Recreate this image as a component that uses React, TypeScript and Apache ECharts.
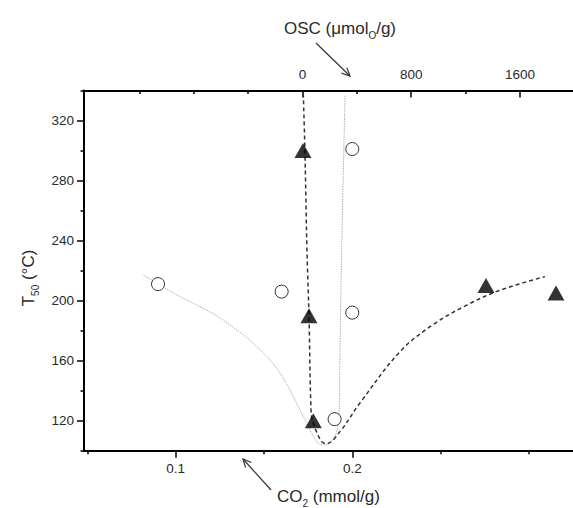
import React, { useEffect, useRef } from "react";
import * as echarts from "echarts";

// ---- data ----
// Open circles: T50 vs CO2 uptake (bottom axis, mmol/g)
const co2Points: [number, number][] = [
  [0.09, 211],
  [0.16, 206],
  [0.2, 301],
  [0.2, 192],
  [0.19, 121],
];
// Light grey trend curve for the CO2 data
const co2Curve: [number, number][] = [
  [0.0817, 217.1],
  [0.09, 211.1],
  [0.0996, 204.5],
  [0.1119, 197.1],
  [0.1223, 190.5],
  [0.1307, 183.8],
  [0.1387, 176.8],
  [0.1459, 169.3],
  [0.1534, 160.5],
  [0.1619, 146.5],
  [0.1704, 127.1],
  [0.1761, 113.8],
  [0.1806, 105.1],
  [0.1845, 103.8],
  [0.1912, 112.7],
  [0.1926, 127.1],
  [0.193, 162.5],
  [0.194, 233.8],
  [0.1959, 337],
];
// Filled triangles: T50 vs OSC (top axis, umol O/g)
const oscPoints: [number, number][] = [
  [4, 300],
  [48, 190],
  [80, 120],
  [1350, 210],
  [1865, 205],
];
// Dashed trend curve for the OSC data
const oscCurve: [number, number][] = [
  [6, 338],
  [18, 300],
  [33, 234],
  [48, 190],
  [63, 127],
  [77, 119],
  [141, 106],
  [178, 104.7],
  [276, 112.7],
  [423, 131.8],
  [717, 166],
  [960, 184],
  [1208, 197],
  [1456, 207],
  [1784, 216],
];

const yTicks = [120, 160, 200, 240, 280, 320];
const yMinorTicks = [100, 140, 180, 220, 260, 300, 340];
const co2Ticks = [0.1, 0.2];
const co2MinorTicks = [0.05, 0.15, 0.25, 0.3];
const oscTicks = [0, 800, 1600];
const oscMinorTicks = [-1200, -800, -400, 400, 1200];

const FONT = "Liberation Sans";
const TXT = "#2a2a2a";

export default function App() {
  const ref = useRef<HTMLDivElement>(null);

  useEffect(() => {
    const chart = echarts.init(ref.current!, null, { renderer: "svg" });
    const gridPos = { left: 84, width: 489, top: 90.5, height: 360.2 };
    const co2Range = { min: 0.04807, max: 0.325 };
    const oscRange = { min: -1607, max: 1990 };
    const yRange = { min: 100, max: 340 };
    const axisLine = { show: true, onZero: false, lineStyle: { color: "#000", width: 2 } };
    const label = { color: TXT, fontFamily: FONT, fontSize: 13.5 };

    const rich = {
      a: { fontSize: 17, fontFamily: FONT, fill: TXT, color: TXT, verticalAlign: "top", height: 17, lineHeight: 17 },
      s: { fontSize: 10, fontFamily: FONT, fill: TXT, color: TXT, verticalAlign: "bottom", padding: [11, 0, 0, 0] },
    };

    const option: any = {
      animation: false,
      backgroundColor: "#fff",
      grid: [
        { ...gridPos, containLabel: false },
        { ...gridPos, containLabel: false },
      ],
      xAxis: [
        {
          type: "value",
          gridIndex: 0,
          position: "bottom",
          ...co2Range,
          axisLine,
          axisTick: { show: true, inside: false, length: 7, customValues: co2Ticks, lineStyle: { color: "#000", width: 1.5 } },
          axisLabel: { ...label, margin: 11, customValues: co2Ticks, formatter: (v: number) => String(v) },
          splitLine: { show: false },
        },
        {
          type: "value",
          gridIndex: 0,
          position: "top",
          ...oscRange,
          axisLine,
          axisTick: { show: true, inside: true, length: 7, customValues: oscTicks, lineStyle: { color: "#000", width: 1.5 } },
          axisLabel: { ...label, margin: 9, customValues: oscTicks, formatter: (v: number) => String(v) },
          splitLine: { show: false },
        },
        {
          type: "value",
          gridIndex: 1,
          position: "bottom",
          ...co2Range,
          axisLine: { show: false, onZero: false },
          axisTick: { show: true, inside: false, length: 3.5, customValues: co2MinorTicks, lineStyle: { color: "#000", width: 1.5 } },
          axisLabel: { show: false },
          splitLine: { show: false },
        },
        {
          type: "value",
          gridIndex: 1,
          position: "top",
          ...oscRange,
          axisLine: { show: false, onZero: false },
          axisTick: { show: true, inside: true, length: 3.5, customValues: oscMinorTicks, lineStyle: { color: "#000", width: 1.5 } },
          axisLabel: { show: false },
          splitLine: { show: false },
        },
      ],
      yAxis: [
        {
          type: "value",
          gridIndex: 0,
          position: "left",
          ...yRange,
          axisLine,
          axisTick: { show: true, inside: false, length: 7, customValues: yTicks, lineStyle: { color: "#000", width: 1.5 } },
          axisLabel: { ...label, margin: 10, customValues: yTicks },
          splitLine: { show: false },
        },
        {
          type: "value",
          gridIndex: 1,
          position: "left",
          ...yRange,
          axisLine: { show: false, onZero: false },
          axisTick: { show: true, inside: false, length: 3.5, customValues: yMinorTicks, lineStyle: { color: "#000", width: 1.5 } },
          axisLabel: { show: false },
          splitLine: { show: false },
        },
      ],
      series: [
        {
          type: "line",
          xAxisIndex: 0,
          yAxisIndex: 0,
          data: co2Curve,
          smooth: 0.35,
          showSymbol: false,
          symbol: "none",
          lineStyle: { color: "#b0b0b0", width: 1, type: [1.5, 1] },
          z: 2,
        },
        {
          type: "line",
          xAxisIndex: 1,
          yAxisIndex: 0,
          data: oscCurve,
          smooth: 0.35,
          showSymbol: false,
          symbol: "none",
          lineStyle: { color: "#333", width: 1.5, type: [4, 3] },
          z: 2,
        },
        {
          type: "scatter",
          xAxisIndex: 0,
          yAxisIndex: 0,
          data: co2Points,
          symbol: "circle",
          symbolSize: 13,
          itemStyle: { color: "#fff", borderColor: "#000", borderWidth: 1 },
          z: 5,
        },
        {
          type: "scatter",
          xAxisIndex: 1,
          yAxisIndex: 0,
          data: oscPoints,
          symbol: "triangle",
          symbolSize: [17, 15],
          itemStyle: { color: "#000" },
          z: 5,
        },
      ],
      graphic: [
        {
          type: "text",
          x: 30,
          y: 278,
          rotation: Math.PI / 2,
          style: {
            text: "{a|T}{s|50}{a| (°C)}",
            rich,
            align: "center",
            verticalAlign: "middle",
          },
        },
        {
          type: "text",
          x: 284,
          y: 30,
          style: {
            text: "{a|OSC (μmol}{s|O}{a|/g)}",
            rich,
            align: "left",
            verticalAlign: "middle",
          },
        },
        {
          type: "text",
          x: 277,
          y: 498,
          style: {
            text: "{a|CO}{s|2}{a| (mmol/g)}",
            rich,
            align: "left",
            verticalAlign: "middle",
          },
        },
        {
          type: "line",
          shape: { x1: 316, y1: 43, x2: 350, y2: 76 },
          style: { stroke: "#333", lineWidth: 1.2 },
        },
        {
          type: "polyline",
          shape: { points: [[346.8, 67.6], [350, 76], [341.5, 73.1]] },
          style: { stroke: "#333", lineWidth: 1.2, fill: null },
        },
        {
          type: "line",
          shape: { x1: 271, y1: 490, x2: 243, y2: 459 },
          style: { stroke: "#333", lineWidth: 1.2 },
        },
        {
          type: "polyline",
          shape: { points: [[245.6, 467.6], [243, 459], [251.3, 462.5]] },
          style: { stroke: "#333", lineWidth: 1.2, fill: null },
        },
      ],
    };

    chart.setOption(option);
    return () => chart.dispose();
  }, []);

  return (
    <div
      ref={ref}
      style={{ position: "fixed", left: 0, top: 0, width: 573, height: 508, background: "#fff" }}
    />
  );
}
